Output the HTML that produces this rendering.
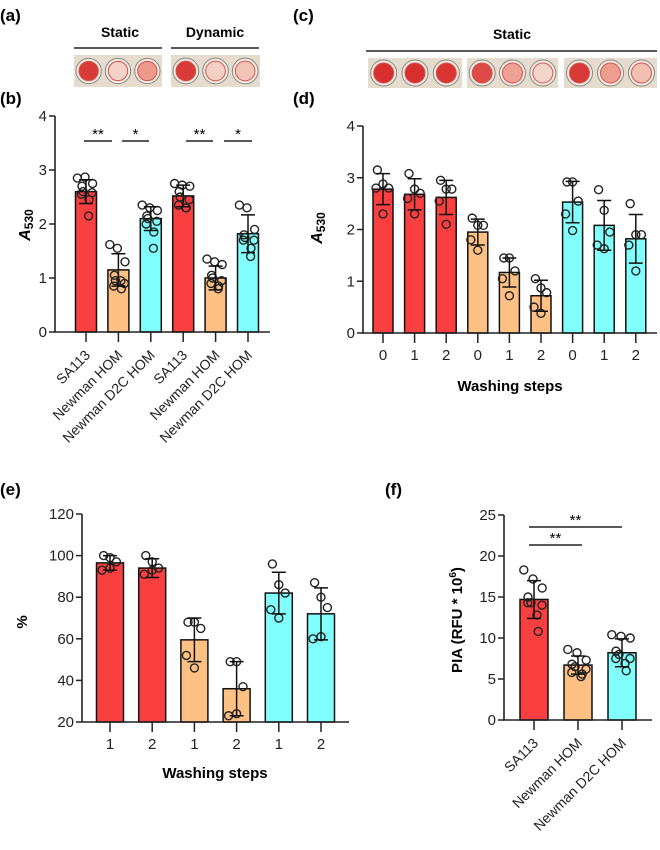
<!DOCTYPE html>
<html><head><meta charset="utf-8">
<style>
html,body{margin:0;padding:0;background:#fff;}
svg{display:block;font-family:"Liberation Sans",Arial,sans-serif;}
</style></head>
<body>
<svg id="fig" width="660" height="850" viewBox="0 0 660 850" xmlns="http://www.w3.org/2000/svg">
<g id="static">
  <text x="0" y="21" font-size="17" font-weight="bold">(a)</text>
  <text x="0" y="104" font-size="17" font-weight="bold">(b)</text>
  <text x="293" y="21" font-size="17" font-weight="bold">(c)</text>
  <text x="293" y="104" font-size="17" font-weight="bold">(d)</text>
  <text x="0" y="495" font-size="17" font-weight="bold">(e)</text>
  <text x="385" y="495" font-size="17" font-weight="bold">(f)</text>
  <text x="120" y="37" font-size="14" font-weight="bold" text-anchor="middle">Static</text>
  <line x1="74" y1="48" x2="162" y2="48" stroke="#222" stroke-width="1.5"/>
  <text x="215" y="37" font-size="14" font-weight="bold" text-anchor="middle">Dynamic</text>
  <line x1="171" y1="48" x2="259" y2="48" stroke="#222" stroke-width="1.5"/>
  <text x="512" y="39" font-size="14" font-weight="bold" text-anchor="middle">Static</text>
  <line x1="366" y1="51" x2="657" y2="51" stroke="#222" stroke-width="1.5"/>
</g>
<g id="plates"></g>
<g id="charts"></g>
</svg>
<script>
// ---------- data ----------
const catsB = ["SA113","Newman HOM","Newman D2C HOM","SA113","Newman HOM","Newman D2C HOM"];
const meansB = [2.6, 1.15, 2.1, 2.52, 1.0, 1.82];
const sdB = [0.22, 0.3, 0.22, 0.2, 0.22, 0.35];
const ptsB = [
 [2.85,2.87,2.75,2.7,2.6,2.58,2.55,2.45,2.15],
 [1.62,1.55,1.3,1.05,0.95,0.9,0.85,0.8,0.95],
 [2.35,2.3,2.25,2.15,2.1,2.05,2.0,1.85,1.55],
 [2.75,2.72,2.7,2.6,2.5,2.45,2.35,2.3,2.3],
 [1.35,1.3,1.25,1.05,1.0,0.95,0.9,0.85,0.8],
 [2.35,2.3,1.9,1.8,1.75,1.7,1.7,1.55,1.4]];
const ticksB = [0,1,2,3,4];

const catsD = ["0","1","2","0","1","2","0","1","2"];
const meansD = [2.78,2.68,2.62,1.95,1.17,0.72,2.53,2.08,1.82];
const sdD = [0.3,0.3,0.33,0.25,0.28,0.3,0.4,0.48,0.47];
const ptsD = [
 [3.15,2.88,2.8,2.8,2.3],[3.08,2.78,2.7,2.6,2.3],[2.95,2.78,2.78,2.55,2.1],
 [2.22,2.08,2.08,1.8,1.6],[1.45,1.45,1.2,1.05,0.72],[1.05,0.87,0.78,0.5,0.38],
 [2.92,2.92,2.55,2.3,1.98],[2.77,2.37,1.95,1.7,1.63],[2.5,1.9,1.9,1.7,1.2]];
const ticksD = [0,1,2,3,4];

const catsE = ["1","2","1","2","1","2"];
const meansE = [96.5,94,59.5,36,82,72];
const sdE = [3.5,4.5,10.5,13,10,12.5];
const ptsE = [[100,99,97,93,94],[100,97,94,91,93],[68,68,65,52,46],[49,49,37,23,24],[96,86,82,74,70],[87,80,75,60,61]];
const ticksE = [20,40,60,80,100,120];

const catsF = ["SA113","Newman HOM","Newman D2C HOM"];
const meansF = [14.7,6.7,8.2];
const sdF = [2.3,1.1,1.7];
const ptsF = [[18.3,17.2,16.1,15,14.3,14,14.3,12.8,10.8],[8.6,8.2,7.3,6.8,6.5,6.2,5.8,5.3,5.6],[10.4,10.2,10.0,8.4,8.0,7.5,7.5,6.9,6.0]];
const ticksF = [0,5,10,15,20,25];

const RED="#FA3F41", ORA="#FFC183", CYA="#80FFFD";
const NS="http://www.w3.org/2000/svg";
const charts=document.getElementById('charts');
function mk(tag,attrs,parent){const e=document.createElementNS(NS,tag);for(const k in attrs)e.setAttribute(k,attrs[k]);(parent||charts).appendChild(e);return e;}

function chart(o){
  const g=mk('g',{});
  
  
  const y=v=>o.y0-(v-o.vmin)/(o.vmax-o.vmin)*(o.y0-o.y1);
  const x=i=>o.xs0+i*o.step;
  o.means.forEach((m,i)=>{
    const r=mk('rect',{x:x(i)-o.bw/2,y:y(m),width:o.bw,height:o.y0-y(m),fill:o.colors[i],stroke:"#111","stroke-width":1.5},g);
    
    
  });
  o.pts.forEach((arr,i)=>{
    const n=arr.length;
    arr.forEach((v,j)=>{
      const off=((j%3)-1)*o.jit*(j%2?1:0.8)+(n>5?((j%4)-1.5)*2:0);
      const c=mk('circle',{cx:x(i)+off,cy:y(v),r:4,fill:"none",stroke:"#222","stroke-width":1.4},g);
      
      
    });
  });
  o.means.forEach((m,i)=>{
    const e=mk('path',{d:`M${x(i)} ${y(m-o.sd[i])}V${y(m+o.sd[i])}M${x(i)-7} ${y(m+o.sd[i])}h14M${x(i)-7} ${y(m-o.sd[i])}h14`,stroke:"#111","stroke-width":1.5,fill:"none"},g);
    
    
  });
  const ax=mk('path',{d:`M${o.ax} ${o.y1}V${o.y0}H${o.xend}`,stroke:"#222","stroke-width":1.6,fill:"none"},g);
  
  
  o.ticks.forEach(t=>{
    mk('line',{x1:o.ax-6,x2:o.ax,y1:y(t),y2:y(t),stroke:"#222","stroke-width":1.5},g);
    const tl=mk('text',{x:o.ax-8,y:y(t)+5,"font-size":15,"text-anchor":"end",fill:"#222"},g);
    tl.textContent=t;
    
    
  });
  o.cats.forEach((c,i)=>{
    mk('line',{x1:x(i),x2:x(i),y1:o.y0,y2:o.y0+10,stroke:"#222","stroke-width":1.5},g);
    let t;
    if(o.rot){
      t=mk('text',{x:x(i)+5,y:o.y0+24,"font-size":14,"text-anchor":"end",fill:"#222",transform:`rotate(-45 ${x(i)+5} ${o.y0+24})`},g);
    } else {
      t=mk('text',{x:x(i),y:o.y0+27,"font-size":15,"text-anchor":"middle",fill:"#222"},g);
    }
    t.textContent=c;
    
    
  });
  return {g,y,x};
}
const c3=[RED,ORA,CYA];
const b=chart({name:'chart-b',cats:catsB,means:meansB,sd:sdB,pts:ptsB,ticks:ticksB,vmin:0,vmax:4,y0:332,y1:116,ax:55,xend:270,xs0:86,step:32.4,bw:21,colors:[RED,ORA,CYA,RED,ORA,CYA],jit:7,rot:true});
const d=chart({name:'chart-d',cats:catsD,means:meansD,sd:sdD,pts:ptsD,ticks:ticksD,vmin:0,vmax:4,y0:333,y1:126,ax:363,xend:657,xs0:383,step:31.6,bw:20,colors:[RED,RED,RED,ORA,ORA,ORA,CYA,CYA,CYA],jit:7});
const e=chart({name:'chart-e',cats:catsE,means:meansE,sd:sdE,pts:ptsE,ticks:ticksE,vmin:20,vmax:120,y0:722,y1:514,ax:82,xend:349,xs0:110,step:42.2,bw:27,colors:[RED,RED,ORA,ORA,CYA,CYA],jit:8});
const f=chart({name:'chart-f',cats:catsF,means:meansF,sd:sdF,pts:ptsF,ticks:ticksF,vmin:0,vmax:25,y0:720,y1:515,ax:504,xend:652,xs0:534,step:44,bw:28,colors:c3,jit:9,rot:true});

function txt(s,attrs,name){const t=mk('text',attrs);t.textContent=s;return t;}
const ab=mk('text',{x:30,y:225,"font-size":16,"font-weight":"bold","text-anchor":"middle",transform:"rotate(-90 30 225)"});
ab.innerHTML='<tspan font-style="italic">A</tspan><tspan font-size="12" dy="3">530</tspan>';


const ad=mk('text',{x:322,y:228,"font-size":16,"font-weight":"bold","text-anchor":"middle",transform:"rotate(-90 322 228)"});
ad.innerHTML='<tspan font-style="italic">A</tspan><tspan font-size="12" dy="3">530</tspan>';


txt('Washing steps',{x:510,y:391,"font-size":15,"font-weight":"bold","text-anchor":"middle"},'x-axis-title-d');
txt('Washing steps',{x:215,y:778,"font-size":15,"font-weight":"bold","text-anchor":"middle"},'x-axis-title-e');
txt('%',{x:27,y:622,"font-size":15,"font-weight":"bold","text-anchor":"middle",transform:"rotate(-90 27 622)"},'y-axis-title-e');
const pf=mk('text',{x:462,y:620,"font-size":15,"font-weight":"bold","text-anchor":"middle",transform:"rotate(-90 462 620)"});
pf.innerHTML='PIA (RFU * 10<tspan font-size="10" dy="-6">6</tspan><tspan dy="6">)</tspan>';



function sig(x1,x2,yy,label,name){
  const l=mk('line',{x1:x1,x2:x2,y1:yy,y2:yy,stroke:"#222","stroke-width":1.5});
  
  
  txt(label,{x:(x1+x2)/2,y:yy-2,"font-size":15,"text-anchor":"middle"},name+'-stars');
}
sig(84,112,141,'**','sig-b1');sig(122,149,141,'*','sig-b2');
sig(186,213,141,'**','sig-b3');sig(224,252,141,'*','sig-b4');
sig(529,622,527,'**','sig-f1');sig(529,582,545,'**','sig-f2');

const pl=document.getElementById('plates');
function plate(x0,y0,w,h,fills,name){
  const g=mk('g',{},pl);
  
  
  mk('rect',{x:x0,y:y0,width:w,height:h,fill:"#e6dccd"},g);
  const cw=w/3,r=Math.min(cw,h)/2-2;
  fills.forEach((f,i)=>{
    const cx=x0+cw*(i+0.5),cy=y0+h/2;
    mk('circle',{cx:cx,cy:cy,r:r,fill:"#f1ede6",stroke:"#8a8580","stroke-width":1},g);
    mk('circle',{cx:cx,cy:cy,r:r-3,fill:f,stroke:"#d8504a","stroke-width":1},g);
  });
}
plate(74,55,88,32,["#d93b38","#f4d2c8","#ee9a8a"],'plate-static-a');
plate(171,55,89,32,["#d93b38","#f4cfc3","#f2c4b6"],'plate-dynamic-a');
plate(368,58,94,30,["#d8302e","#d8302e","#da3532"],'plate-c1');
plate(467,58,91,30,["#de4a45","#eda094","#f5d5c9"],'plate-c2');
plate(564,58,93,30,["#da3a36","#ee9e90","#f2c0b0"],'plate-c3');
</script>
</body></html>
